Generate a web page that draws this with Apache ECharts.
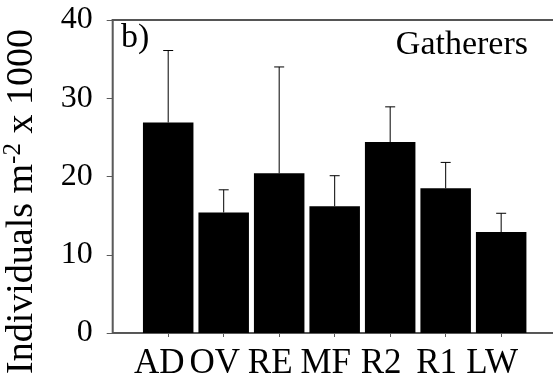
<!DOCTYPE html>
<html><head><meta charset="utf-8">
<script src="https://cdn.jsdelivr.net/npm/echarts@6/dist/echarts.min.js"></script>
<style>html,body{margin:0;padding:0;background:#fff}#c{width:553px;height:385px}</style>
</head><body><div id="c"></div>
<script>
var categories = ['AD', 'OV', 'RE', 'MF', 'R2', 'R1', 'LW'];
var means = [26.9, 15.4, 20.4, 16.2, 24.4, 18.5, 12.9];
var upper = [36.1, 18.3, 34.0, 20.1, 28.9, 21.8, 15.3];
var yTicks = [0, 10, 20, 30, 40];

var FONT = 'Liberation Serif';
var positions = categories.map(function (c, i) { return i + 1; });
var barData = means.map(function (v, i) { return [positions[i], v]; });
var errData = means.map(function (v, i) { return [positions[i], v, upper[i]]; });
var yMax = yTicks[yTicks.length - 1];

var chart = echarts.init(document.getElementById('c'));
chart.setOption({
  animation: false,
  title: [
    { text: 'b)', left: 121, top: 21, padding: 0,
      textStyle: { fontFamily: FONT, fontSize: 34, fontWeight: 'normal', color: '#000' } },
    { text: 'Gatherers', right: 25, top: 28, padding: 0,
      textStyle: { fontFamily: FONT, fontSize: 34, fontWeight: 'normal', color: '#000' } }
  ],
  grid: { left: 112.7, right: -2, top: 20, bottom: 52, containLabel: false, outerBoundsMode: 'none',
          show: true, borderColor: '#555', borderWidth: 2, backgroundColor: 'transparent' },
  xAxis: [{
    type: 'value', min: 0, max: 7.97, interval: 1,
    splitLine: { show: false },
    axisLine: { show: true, onZero: false, lineStyle: { color: '#5a5a5a', width: 1 } },
    axisTick: { show: true, customValues: positions, length: 4, lineStyle: { color: '#5a5a5a' } },
    axisLabel: {
      customValues: positions,
      fontFamily: FONT, fontSize: 35, color: '#000', margin: 13,
      padding: [0, 18, 0, 0],
      formatter: function (v) { return categories[Math.round(v) - 1] || ''; }
    }
  }, {
    type: 'value', min: 0, max: 7.97, position: 'top',
    splitLine: { show: false },
    axisLine: { show: true, onZero: false, lineStyle: { color: '#555', width: 2 } },
    axisTick: { show: false }, axisLabel: { show: false }
  }],
  yAxis: {
    type: 'value', min: yTicks[0], max: yMax, interval: 10,
    splitLine: { show: false },
    axisLine: { show: true, onZero: false, lineStyle: { color: '#5a5a5a', width: 1 } },
    axisTick: { show: true, inside: false, length: 6, lineStyle: { color: '#5a5a5a' } },
    axisLabel: { fontFamily: FONT, fontSize: 32, color: '#000', margin: 20 },
    name: '{a|Individuals m}{s|-2}{a| x 1000}',
    nameLocation: 'middle', nameGap: 70, nameRotate: 90,
    nameTextStyle: {
      padding: [0, 50, 0, 0],
      rich: {
        a: { fontFamily: FONT, fontSize: 38, color: '#000', lineHeight: 42 },
        s: { fontFamily: FONT, fontSize: 25, color: '#000', verticalAlign: 'top', lineHeight: 42 }
      }
    }
  },
  series: [{
    type: 'bar', data: barData, barWidth: 50.5,
    itemStyle: { color: '#000' }, z: 2
  }, {
    type: 'custom', data: errData, z: 3,
    renderItem: function (params, api) {
      var x = api.value(0);
      var p0 = api.coord([x, api.value(1)]);
      var p1 = api.coord([x, api.value(2)]);
      var hw = 5;
      return {
        type: 'group',
        children: [
          { type: 'line', shape: { x1: p0[0], y1: p0[1], x2: p1[0], y2: p1[1] },
            style: { stroke: '#000', lineWidth: 1 } },
          { type: 'line', shape: { x1: p1[0] - hw, y1: p1[1], x2: p1[0] + hw, y2: p1[1] },
            style: { stroke: '#000', lineWidth: 1 } }
        ]
      };
    }
  }]
});
</script></body></html>
